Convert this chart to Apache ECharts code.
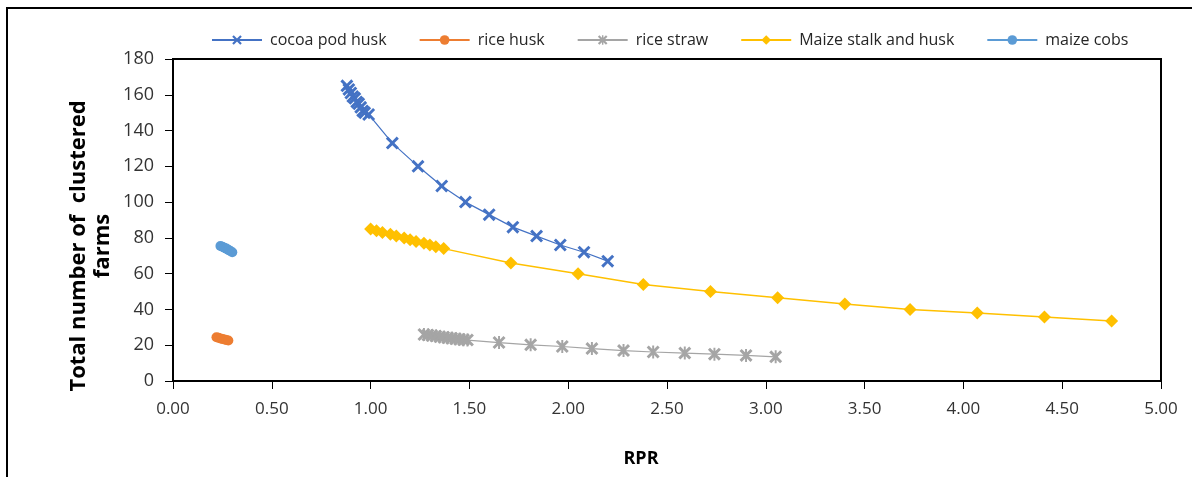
<!DOCTYPE html>
<html>
<head>
<meta charset="utf-8">
<script src="https://cdn.jsdelivr.net/npm/echarts@6/dist/echarts.min.js"></script>
<style>
html,body{margin:0;padding:0;background:#fff;}
#chart{width:1192px;height:477px;}
</style>
</head>
<body>
<div id="chart"></div>
<script>
// ---- data ----
const cocoaX = [0.88,0.89,0.90,0.91,0.92,0.93,0.94,0.95,0.96,0.97,0.99,1.11,1.24,1.36,1.48,1.60,1.72,1.84,1.96,2.08,2.20];
const cocoaY = [165,163,161,159,158,156,155,153,151,150,149,133,120,109,100,93,86,81,76,72,67];

const riceHuskX = [0.22,0.23,0.24,0.25,0.26,0.27,0.28];
const riceHuskY = [24.5,24.2,23.8,23.5,23.2,22.9,22.6];

const strawX = [1.27,1.29,1.31,1.33,1.35,1.37,1.39,1.41,1.43,1.45,1.47,1.49,1.65,1.81,1.97,2.12,2.28,2.43,2.59,2.74,2.90,3.05];
const strawY = [26,25.7,25.4,25.1,24.8,24.5,24.2,23.9,23.6,23.3,23.1,22.9,21.5,20.2,19.3,18.1,17,16.2,15.6,15,14.3,13.5];

const maizeStalkX = [1.00,1.03,1.06,1.10,1.13,1.17,1.20,1.23,1.27,1.30,1.33,1.37,1.71,2.05,2.38,2.72,3.06,3.40,3.73,4.07,4.41,4.75];
const maizeStalkY = [85,84,83,82,81,80,79,78,77,76,75,74,66,60,54,50,46.5,43,40,38,35.8,33.6];

const cobsX = [0.24,0.25,0.26,0.27,0.28,0.29,0.30];
const cobsY = [75.5,75,74.5,74,73.3,72.7,72];

const seriesNames = ['cocoa pod husk','rice husk','rice straw','Maize stalk and husk','maize cobs'];
const xTicks = {min:0, max:5, interval:0.5};
const yTicks = {min:0, max:180, interval:20};

function pts(xs, ys){ return xs.map((x,i)=>[x, ys[i]]); }

const xSym = 'path://M0,1.6L1.6,0L5,3.4L8.4,0L10,1.6L6.6,5L10,8.4L8.4,10L5,6.6L1.6,10L0,8.4L3.4,5Z';
const starSym = 'path://M0,1.6L1.6,0L5,3.4L8.4,0L10,1.6L6.6,5L10,8.4L8.4,10L5,6.6L1.6,10L0,8.4L3.4,5Z M4.25,0L5.75,0L5.75,10L4.25,10Z';

const font = '"Open Sans", "Liberation Sans", sans-serif';

const chart = echarts.init(document.getElementById('chart'), null, {renderer:'canvas'});
const mk = (name, data, color, symbol, size, lw) => ({
  name, type:'line', data, symbol, symbolSize:size, showSymbol:true,
  lineStyle:{color, width:lw}, itemStyle:{color, borderWidth:0},
  smooth:false, animation:false, z: 3
});

chart.setOption({
  animation:false,
  backgroundColor:'#fff',
  textStyle:{fontFamily:font},
  legend:{
    top:27, left:206,
    itemWidth:50, itemHeight:12, itemGap:32,
    textStyle:{fontSize:16, color:'#262626', fontFamily:font, padding:[0,0,0,3]},
    data:seriesNames
  },
  grid:{left:173, right:31, top:59, bottom:96, show:true, borderColor:'#000', borderWidth:2, containLabel:false},
  xAxis:{
    type:'value', min:xTicks.min, max:xTicks.max, interval:xTicks.interval,
    axisLine:{lineStyle:{color:'#000', width:2}, onZero:false},
    axisTick:{show:true, inside:false, length:8, lineStyle:{color:'#000', width:1}},
    axisLabel:{formatter:v=>v.toFixed(2), fontSize:17, color:'#333', margin:20, fontFamily:font},
    splitLine:{show:false}
  },
  yAxis:{
    type:'value', min:yTicks.min, max:yTicks.max, interval:yTicks.interval,
    axisLine:{show:true, lineStyle:{color:'#000', width:2}},
    axisTick:{show:true, inside:false, length:8, lineStyle:{color:'#000', width:1}},
    axisLabel:{fontSize:18, color:'#333', margin:19, fontFamily:font},
    splitLine:{show:false}
  },
  graphic:[
    {type:'rect', shape:{x:7, y:8, width:1300, height:600}, style:{fill:null, stroke:'#000', lineWidth:2}, silent:true, z:-1},
    {type:'text', x:91, y:246, rotation:Math.PI/2, style:{text:'Total number of  clustered\nfarms', fill:'#000', align:'center', verticalAlign:'middle', lineHeight:24, font:'bold 22px '+font}},
    {type:'text', x:641, y:459, style:{text:'RPR', fill:'#000', align:'center', verticalAlign:'middle', font:'bold 18px '+font}}
  ],
  series:[
    mk(seriesNames[0], pts(cocoaX,cocoaY), '#4472C4', xSym, 13, 1.2),
    mk(seriesNames[1], pts(riceHuskX,riceHuskY), '#ED7D31', 'circle', 10, 1.2),
    mk(seriesNames[2], pts(strawX,strawY), '#A5A5A5', starSym, 13, 1.2),
    mk(seriesNames[3], pts(maizeStalkX,maizeStalkY), '#FFC000', 'diamond', 13, 1.5),
    mk(seriesNames[4], pts(cobsX,cobsY), '#5B9BD5', 'circle', 10, 1.2)
  ]
});
</script>
</body>
</html>
